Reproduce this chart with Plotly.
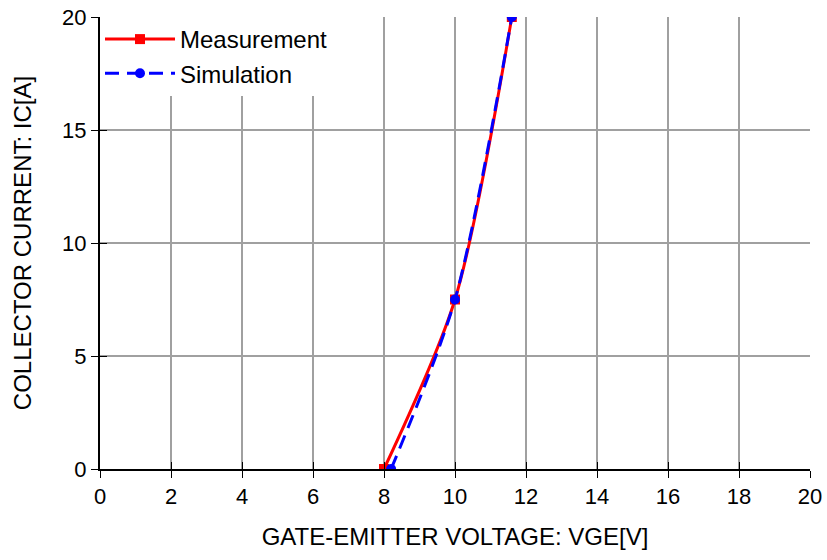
import plotly.graph_objects as go

meas_x = [8.0, 10.0, 11.6]
meas_y = [0.0, 7.5, 20.0]
sim_x = [8.2, 10.0, 11.6]
sim_y = [0.0, 7.5, 20.0]
x_ticks = [0, 2, 4, 6, 8, 10, 12, 14, 16, 18, 20]
y_ticks = [0, 5, 10, 15, 20]

fig = go.Figure()
fig.add_trace(go.Scatter(x=meas_x, y=meas_y, name="Measurement", mode="lines+markers",
                         line=dict(color="#FF0000", width=3, shape="spline", smoothing=0.8),
                         marker=dict(symbol="square", size=10, color="#FF0000")))
fig.add_trace(go.Scatter(x=sim_x, y=sim_y, name="Simulation", mode="lines+markers",
                         line=dict(color="#0000FF", width=3, dash="14px,8px", shape="spline", smoothing=0.8),
                         marker=dict(symbol="circle", size=10, color="#0000FF")))

tick_font = dict(size=22, color="#000000")
title_font = dict(size=24, color="#000000")
fig.update_xaxes(range=[0, 20.0001], tickvals=x_ticks, showgrid=True, gridcolor="#A0A0A0", gridwidth=1.5,
                 zeroline=False, tickfont=tick_font, ticks="outside", ticklen=7, tickcolor="#000000",
                 showline=True, linecolor="#000000", linewidth=2, automargin=False,
                 ticklabeloverflow="allow",
                 title=dict(text="GATE-EMITTER VOLTAGE: VGE[V]", font=title_font, standoff=20))
fig.update_yaxes(range=[0, 20.0001], tickvals=y_ticks, showgrid=True, gridcolor="#A0A0A0", gridwidth=1.5,
                 zeroline=False, tickfont=tick_font, ticks="outside", ticklen=7, tickcolor="#000000",
                 showline=True, linecolor="#000000", linewidth=2, automargin=False,
                 ticklabeloverflow="allow",
                 title=dict(text="COLLECTOR CURRENT: IC[A]", font=title_font, standoff=24))

# inner halves of the crossing tick marks
fig.update_layout(
    xaxis2=dict(overlaying="x", range=[0, 20.0001], tickvals=x_ticks, ticks="inside", ticklen=7,
                tickcolor="#000000", showticklabels=False, showgrid=False, zeroline=False,
                automargin=False, side="bottom", anchor="y"),
    yaxis2=dict(overlaying="y", range=[0, 20.0001], tickvals=y_ticks, ticks="inside", ticklen=7,
                tickcolor="#000000", showticklabels=False, showgrid=False, zeroline=False,
                automargin=False, side="left", anchor="x"),
)
fig.add_trace(go.Scatter(x=[None], y=[None], xaxis="x2", yaxis="y2", showlegend=False, hoverinfo="skip"))

fig.update_layout(
    width=827, height=560,
    margin=dict(l=100, r=17, t=17, b=91),
    plot_bgcolor="#FFFFFF", paper_bgcolor="#FFFFFF",
    font=dict(family="Liberation Sans, Arial, sans-serif"),
    legend=dict(x=0.0, y=1.0, xanchor="left", yanchor="top", bgcolor="#FFFFFF",
                font=dict(size=24, color="#000000"), itemwidth=70, tracegroupgap=8),
    showlegend=True,
)
fig.write_html("out.html", config={"displayModeBar": False},
               post_script="document.body.style.margin='0';")
